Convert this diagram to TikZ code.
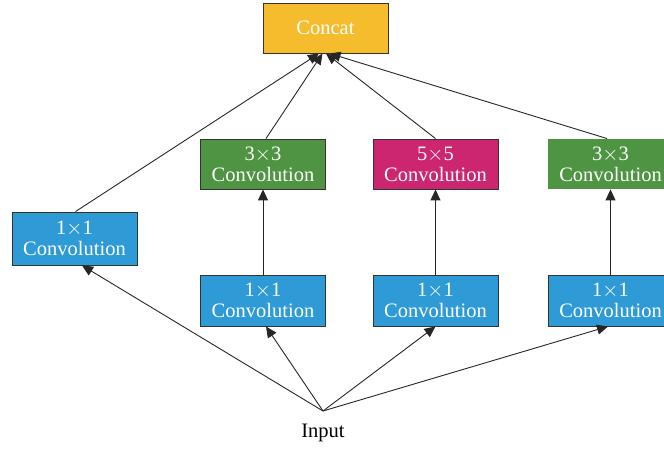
\documentclass[tikz,border=0pt]{standalone}
\usepackage{fontspec}
\setmainfont{Liberation Serif}
\usetikzlibrary{arrows.meta,calc}
\definecolor{cyel}{HTML}{F5BD2D}
\definecolor{cblue}{HTML}{2E9AD6}
\definecolor{cgreen}{HTML}{4E9443}
\definecolor{cmag}{HTML}{CC2670}
\definecolor{cedge}{HTML}{333333}
\tikzset{
  box/.style={draw=cedge, line width=0.9pt, minimum width=125pt, minimum height=50pt,
    inner sep=0pt, text=white, align=center, font=\fontsize{20.5}{21}\selectfont},
  twoline/.style={execute at begin node={\rule{0pt}{19pt}}},
  conn/.style={line width=0.9pt, draw=black!85, -{Triangle[length=11pt,width=10pt]}},
}
\begin{document}
\begin{tikzpicture}[x=1pt,y=-1pt]
\useasboundingbox (0,0) rectangle (664,449);
\clip (0,0) rectangle (664,449);
\node[box, fill=cyel] (concat) at (325.5,28) {Concat};
\node[box, twoline, fill=cblue, minimum height=53pt] (a1) at (74.5,238.5) {1$\times$1\\Convolution};
\node[box, twoline, fill=cgreen] (b3) at (263,164) {3$\times$3\\Convolution};
\node[box, twoline, fill=cmag] (c5) at (435.5,164) {5$\times$5\\Convolution};
\node[box, twoline, fill=cgreen, draw=none] (d3) at (610.5,164) {3$\times$3\\Convolution};
\node[box, twoline, fill=cblue, minimum height=51pt] (b1) at (263,300.5) {1$\times$1\\Convolution};
\node[box, twoline, fill=cblue, minimum height=51pt] (c1) at (435.5,300.5) {1$\times$1\\Convolution};
\node[box, twoline, fill=cblue, minimum height=51pt] (d1) at (610.5,300.5) {1$\times$1\\Convolution};
\coordinate (in) at (323,411);
\node[font=\fontsize{20.5}{21}\selectfont, anchor=center] (inlabel) at (323,433) {Input};
% input to bottom boxes
\draw[conn] (in) -- ($(a1.south)+(7.5,0)$);
\draw[conn] (in) -- ($(b1.south)+(3,0)$);
\draw[conn] (in) -- (c1.south);
\draw[conn] (in) -- ($(d1.south)+(-2.5,0)$);
% middle
\draw[conn] (b1.north) -- (b3.south);
\draw[conn] (c1.north) -- (c5.south);
\draw[conn] (d1.north) -- (d3.south);
% to concat
\draw[conn] ($(a1.north)+(1,0)$) -- ($(concat.south)+(-6.5,0)$);
\draw[conn] ($(b3.north)+(3,0)$) -- ($(concat.south)+(-3,0)$);
\draw[conn] (c5.north) -- ($(concat.south)+(0.5,0)$);
\draw[conn] ($(d3.north)+(-3.5,0)$) -- ($(concat.south)+(4,0)$);
\end{tikzpicture}
\end{document}
